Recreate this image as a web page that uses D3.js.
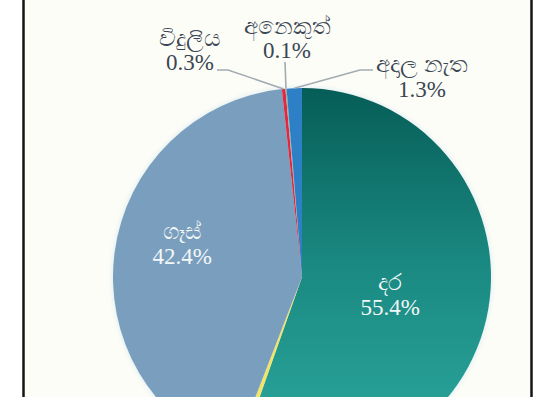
<!DOCTYPE html>
<html><head><meta charset="utf-8">
<script src="https://cdn.jsdelivr.net/npm/d3@7"></script>
<style>
html,body{margin:0;padding:0;background:#fff;}
svg{display:block;}
text{font-family:"Liberation Serif","Times New Roman",serif;}
</style></head>
<body>
<script>
// ---- data ----
const categories = ["දර", "භූමිතෙල්", "ගෑස්", "විදුලිය", "අනෙකුත්", "අදාල නැත"];
const values = [55.4, 0.5, 42.4, 0.3, 0.1, 1.3];
const valueLabels = ["55.4%", "0.5%", "42.4%", "0.3%", "0.1%", "1.3%"];
const colors = ["url(#tealGrad)", "#f2e46a", "#7a9ebd", "#e2283f", "#9fb0a0", "#2e80c6"];

const W = 548, H = 397;
const cx = 302, cy = 277, R = 189;

const svg = d3.select("body").append("svg").attr("width", W).attr("height", H);
const defs = svg.append("defs");
const g1 = defs.append("linearGradient").attr("id", "tealGrad")
  .attr("gradientUnits", "userSpaceOnUse")
  .attr("x1", 0).attr("y1", -R).attr("x2", 0).attr("y2", R);
g1.append("stop").attr("offset", "0%").attr("stop-color", "#065d57");
g1.append("stop").attr("offset", "45%").attr("stop-color", "#198880");
g1.append("stop").attr("offset", "100%").attr("stop-color", "#2eaaa0");
const blur = defs.append("filter").attr("id", "glow").attr("x", "-20%").attr("y", "-20%").attr("width", "140%").attr("height", "140%");
blur.append("feGaussianBlur").attr("stdDeviation", 2.5);

// frame
svg.append("rect").attr("x", 23).attr("y", 0).attr("width", 508).attr("height", H).attr("fill", "#fdfdf7");
svg.append("line").attr("x1", 23.5).attr("x2", 23.5).attr("y1", 0).attr("y2", H).attr("stroke", "#151515").attr("stroke-width", 2.5);
svg.append("line").attr("x1", 531.5).attr("x2", 531.5).attr("y1", 0).attr("y2", H).attr("stroke", "#151515").attr("stroke-width", 2.5);

const pie = d3.pie().sort(null).value(d => d)(values);
const arc = d3.arc().innerRadius(0).outerRadius(R);

const g = svg.append("g").attr("transform", `translate(${cx},${cy})`);
// soft halo
g.append("circle").attr("r", R + 1).attr("fill", "#dfeef2").attr("filter", "url(#glow)");
g.selectAll("path.slice").data(pie).join("path").attr("class", "slice")
  .attr("d", arc).attr("fill", (d, i) => colors[i]);

// inside labels
const inside = { 0: 90, 2: 124 };
const insideAngleShift = { 0: 0.035, 2: 0.13 };
Object.keys(inside).forEach(k => {
  const i = +k, d = pie[i];
  const a = (d.startAngle + d.endAngle) / 2 + insideAngleShift[i];
  const x = Math.sin(a) * inside[i], y = -Math.cos(a) * inside[i];
  const t = g.append("text").attr("x", x).attr("y", y).attr("text-anchor", "middle")
    .attr("font-size", 23).attr("fill", "#f2f7f8");
  t.append("tspan").attr("x", x).attr("dy", "-0.25em").text(categories[i]);
  t.append("tspan").attr("x", x).attr("dy", "1.1em").text(valueLabels[i]);
});

// outside labels with leader lines (offsets relative to pie centre)
const outside = {
  3: { tx: -112, ty: -231, gap: 24, pts: [[-85, -207], [-74, -207]] },
  4: { tx: -15, ty: -243, gap: 24, pts: [[-17, -215]] },
  5: { tx: 120, ty: -205, gap: 25, pts: [[71, -207], [58, -207]] }
};
Object.keys(outside).forEach(k => {
  const i = +k, d = pie[i], o = outside[i];
  const a = (d.startAngle + d.endAngle) / 2;
  const edge = [Math.sin(a) * R, -Math.cos(a) * R];
  g.append("path").attr("d", d3.line()([...o.pts, edge]))
    .attr("fill", "none").attr("stroke", "#a3abb2").attr("stroke-width", 1.6);
  const t = g.append("text").attr("x", o.tx).attr("y", o.ty).attr("text-anchor", "middle")
    .attr("font-size", 23).attr("fill", "#3b4654");
  t.append("tspan").attr("x", o.tx).attr("dy", 0).text(categories[i]);
  t.append("tspan").attr("x", o.tx).attr("dy", o.gap).text(valueLabels[i]);
});
</script>
</body></html>
